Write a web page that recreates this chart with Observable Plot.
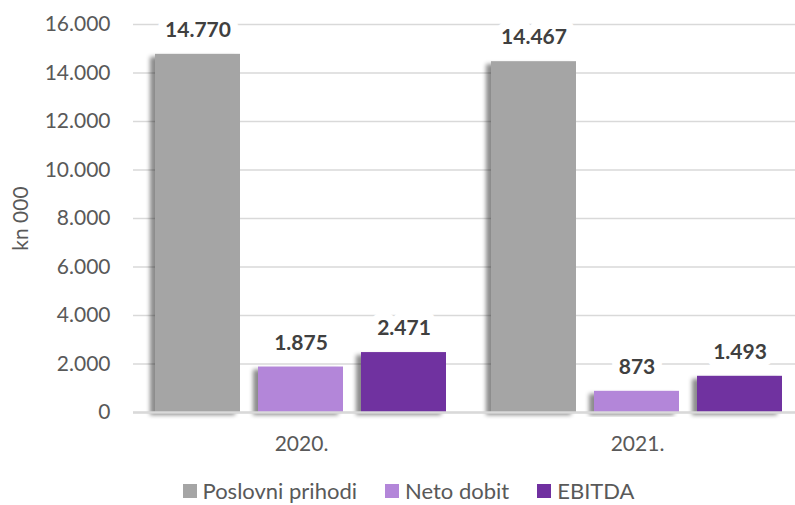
<!DOCTYPE html>
<html>
<head>
<meta charset="utf-8">
<script src="https://cdn.jsdelivr.net/npm/d3@7"></script>
<script src="https://cdn.jsdelivr.net/npm/@observablehq/plot@0.6"></script>
<style>
  html, body { margin: 0; padding: 0; background: #fff; overflow: hidden; }
  #chart { width: 795px; position: relative; }
  .legend { display: flex; justify-content: center; align-items: flex-end; gap: 28px;
            font-family: Lato, sans-serif; font-size: 22px; color: #595959; line-height: 24px;
            margin-top: 9px; padding-left: 22px; }
  .legend .item { display: flex; align-items: center; gap: 6px; }
  .legend .sw { width: 14px; height: 14px; display: inline-block; }
</style>
</head>
<body>
<div id="chart"></div>
<script>
const years = ["2020.", "2021."];
const series = ["Poslovni prihodi", "Neto dobit", "EBITDA"];
const poslovniPrihodi = [14770, 14467];
const netoDobit = [1875, 873];
const ebitda = [2471, 1493];
const colors = ["#A5A5A5", "#B386D9", "#7030A0"];
const yTicks = [0, 2000, 4000, 6000, 8000, 10000, 12000, 14000, 16000];
const yLabel = "kn 000";

const values = [poslovniPrihodi, netoDobit, ebitda];
const data = [];
years.forEach((yr, i) => series.forEach((s, j) => data.push({year: yr, series: s, value: values[j][i]})));

const fmt = d3.formatLocale({decimal: ",", thousands: ".", grouping: [3], currency: ["", ""]}).format(",d");

const chart = Plot.plot({
  width: 795,
  height: 470,
  marginTop: 24,
  marginBottom: 58,
  marginLeft: 133,
  marginRight: 0,
  style: {fontFamily: "Lato, sans-serif", fontSize: "21px", color: "#595959", background: "white", overflow: "visible"},
  fx: {domain: years, range: [133, 805], paddingInner: 0, paddingOuter: 0, label: null},
  x: {domain: series, paddingInner: 0.173, paddingOuter: 0.202, axis: null, label: null},
  y: {domain: [0, 16000], label: null},
  color: {domain: series, range: colors},
  marks: [
    Plot.gridY(yTicks, {stroke: "#D9D9D9", strokeOpacity: 1, strokeWidth: 1.3}),
    Plot.axisY(yTicks, {tickSize: 0, tickPadding: 23, tickFormat: fmt, fontSize: 21, fill: "#595959",
      label: yLabel, labelAnchor: "center", labelArrow: "none", labelOffset: 120}),
    Plot.axisFx({anchor: "bottom", tickSize: 0, tickPadding: 24, fontSize: 21, fill: "#595959", label: null}),
    Plot.barY(data, {fx: "year", x: "series", y: "value", fill: "series"}),
    Plot.ruleY([0], {stroke: "#D9D9D9", strokeWidth: 2.5}),
    Plot.text(data, {fx: "year", x: "series", y: "value", text: d => fmt(d.value), dy: -24,
      fontWeight: "bold", fontSize: 21, fill: "#404040", stroke: "white", strokeWidth: 16, strokeLinejoin: "round"})
  ]
});

// soft shadow on bars (visual effect only)
const ns = "http://www.w3.org/2000/svg";
const defs = document.createElementNS(ns, "defs");
defs.innerHTML = '<filter id="barShadow" x="-20%" y="-20%" width="140%" height="140%"><feDropShadow dx="-5" dy="3" stdDeviation="2.2" flood-color="#000" flood-opacity="0.45"/></filter>';
chart.insertBefore(defs, chart.firstChild);
chart.querySelectorAll('g[aria-label="bar"] rect').forEach(r => r.setAttribute("filter", "url(#barShadow)"));

document.getElementById("chart").appendChild(chart);

const legend = document.createElement("div");
legend.className = "legend";
series.forEach((s, i) => {
  const item = document.createElement("span");
  item.className = "item";
  const sw = document.createElement("span");
  sw.className = "sw";
  sw.style.background = colors[i];
  const t = document.createElement("span");
  t.textContent = s;
  item.appendChild(sw);
  item.appendChild(t);
  legend.appendChild(item);
});
document.getElementById("chart").appendChild(legend);
</script>
</body>
</html>
